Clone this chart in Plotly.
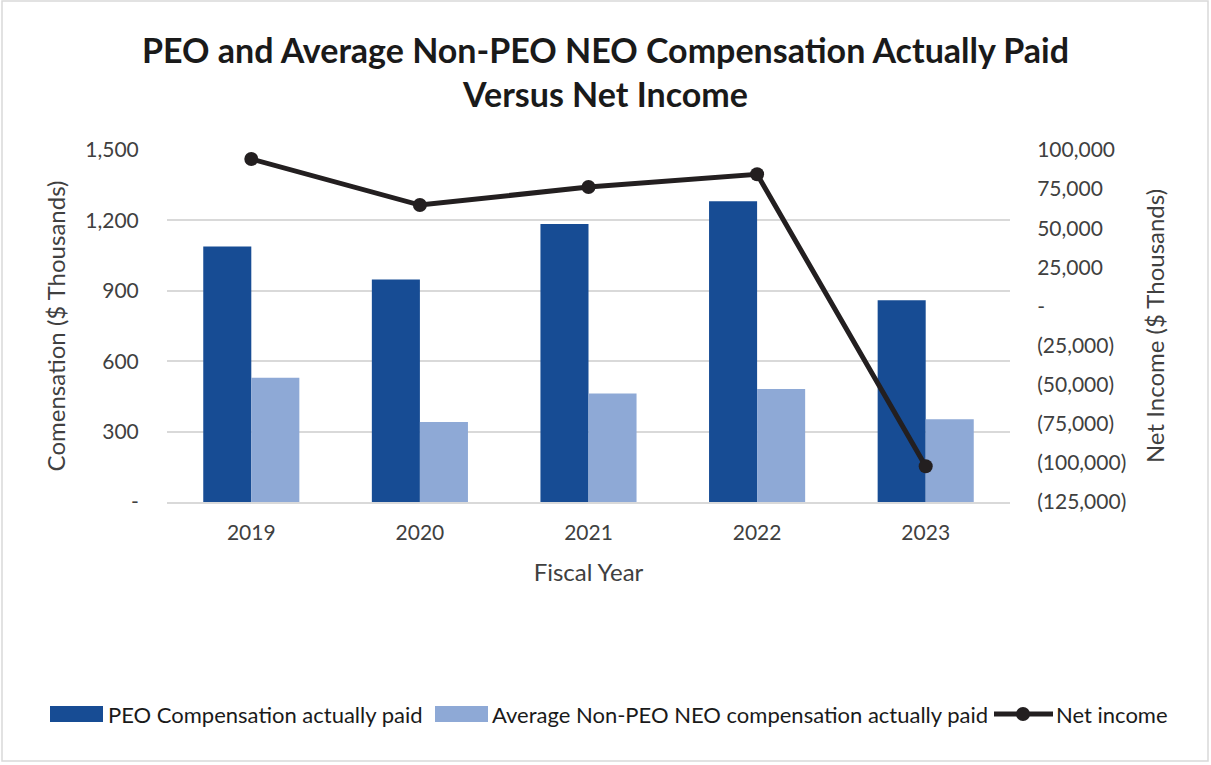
import plotly.graph_objects as go

years = ["2019", "2020", "2021", "2022", "2023"]
peo_cap = [1089, 948, 1185, 1282, 860]
non_peo_cap = [530, 341, 462, 482, 353]
net_income = [94242, 64814, 76329, 84454, -102161]

series_names = ["PEO Compensation actually paid",
                "Average Non-PEO NEO compensation actually paid",
                "Net income"]

left_ticks = [0, 300, 600, 900, 1200, 1500]
left_text = ["-", "300", "600", "900", "1,200", "1,500"]
right_ticks = [-125000, -100000, -75000, -50000, -25000, 0, 25000, 50000, 75000, 100000]
right_text = ["(125,000)", "(100,000)", "(75,000)", "(50,000)", "(25,000)", "-",
              "25,000", "50,000", "75,000", "100,000"]

FONT = "Lato"
TXT = "#404040"
C_PEO = "#174c94"
C_NEO = "#8ea9d6"
C_LINE = "#231f20"

fig = go.Figure()
fig.add_trace(go.Bar(x=years, y=peo_cap, name=series_names[0],
                     marker=dict(color=C_PEO, line=dict(width=0))))
fig.add_trace(go.Bar(x=years, y=non_peo_cap, name=series_names[1],
                     marker=dict(color=C_NEO, line=dict(width=0))))
fig.add_trace(go.Scatter(x=years, y=net_income, name=series_names[2], yaxis="y2",
                         mode="lines+markers",
                         line=dict(color=C_LINE, width=5),
                         marker=dict(color=C_LINE, size=14)))

W, H = 1211, 765
L, R, T, B = 167, 201, 150, 263
pw, ph = W - L - R, H - T - B


def px_x(x):
    return (x - L) / pw


def px_y(y):
    return (H - B - y) / ph


fig.update_layout(
    width=W, height=H,
    margin=dict(l=L, r=R, t=T, b=B, autoexpand=False),
    paper_bgcolor="white", plot_bgcolor="white",
    font=dict(family=FONT, color=TXT, size=21),
    title=dict(text="PEO and Average Non-PEO NEO Compensation Actually Paid<br>Versus Net Income",
               x=0.5, xanchor="center", y=1 - 63 / H, yanchor="middle",
               font=dict(family=FONT, size=34, color="#1a1a1a", weight="bold")),
    barmode="group", bargap=0.43, bargroupgap=0,
    showlegend=False,
    xaxis=dict(showgrid=False, showline=True, linecolor="#d9d9d9", linewidth=1.5,
               automargin=False,
               ticks="outside", ticklen=11, tickcolor="rgba(0,0,0,0)",
               tickfont=dict(size=21, color=TXT),
               title=dict(text="Fiscal Year", font=dict(size=24, color=TXT), standoff=21)),
    yaxis=dict(range=[0, 1500], tickvals=left_ticks, ticktext=left_text,
               showgrid=True, gridcolor="#d9d9d9", gridwidth=1.5, zeroline=False,
               automargin=False,
               ticks="outside", ticklen=23, tickcolor="rgba(0,0,0,0)",
               tickfont=dict(size=21, color=TXT),
               title=dict(text="Comensation ($ Thousands)", font=dict(size=24, color=TXT), standoff=12)),
    yaxis2=dict(range=[-125000, 100000], tickvals=right_ticks, ticktext=right_text,
                overlaying="y", side="right", showgrid=False, zeroline=False,
                automargin=False,
                ticks="outside", ticklen=22, tickcolor="rgba(0,0,0,0)",
                tickfont=dict(size=21, color=TXT),
                title=dict(text="Net Income ($ Thousands)", font=dict(size=24, color=TXT), standoff=21)),
)

# outer chart border
fig.add_shape(type="rect", xref="paper", yref="paper",
              x0=px_x(2), x1=px_x(1208), y0=px_y(761), y1=px_y(1),
              line=dict(color="#d9d9d9", width=1.5), fillcolor="rgba(0,0,0,0)", layer="below")

# legend (drawn manually to reproduce the wide swatches)
ly = 714
leg_font = dict(family=FONT, size=22, color="#1a1a1a")
fig.add_shape(type="rect", xref="paper", yref="paper",
              x0=px_x(50), x1=px_x(103), y0=px_y(ly + 8), y1=px_y(ly - 8),
              line=dict(width=0), fillcolor=C_PEO)
fig.add_annotation(xref="paper", yref="paper", x=px_x(106), y=px_y(ly), text=series_names[0],
                   showarrow=False, xanchor="left", yanchor="middle", font=leg_font)
fig.add_shape(type="rect", xref="paper", yref="paper",
              x0=px_x(435), x1=px_x(488), y0=px_y(ly + 8), y1=px_y(ly - 8),
              line=dict(width=0), fillcolor=C_NEO)
fig.add_annotation(xref="paper", yref="paper", x=px_x(490), y=px_y(ly), text=series_names[1],
                   showarrow=False, xanchor="left", yanchor="middle", font=leg_font)
fig.add_shape(type="line", xref="paper", yref="paper",
              x0=px_x(994), x1=px_x(1053), y0=px_y(ly), y1=px_y(ly),
              line=dict(color=C_LINE, width=5))
fig.add_shape(type="circle", xref="paper", yref="paper",
              x0=px_x(1016), x1=px_x(1030), y0=px_y(ly + 7), y1=px_y(ly - 7),
              line=dict(width=0), fillcolor=C_LINE)
fig.add_annotation(xref="paper", yref="paper", x=px_x(1054), y=px_y(ly), text=series_names[2],
                   showarrow=False, xanchor="left", yanchor="middle", font=leg_font)

fig.write_html("out.html", config={"displayModeBar": False},
               post_script="document.body.style.margin='0';")
